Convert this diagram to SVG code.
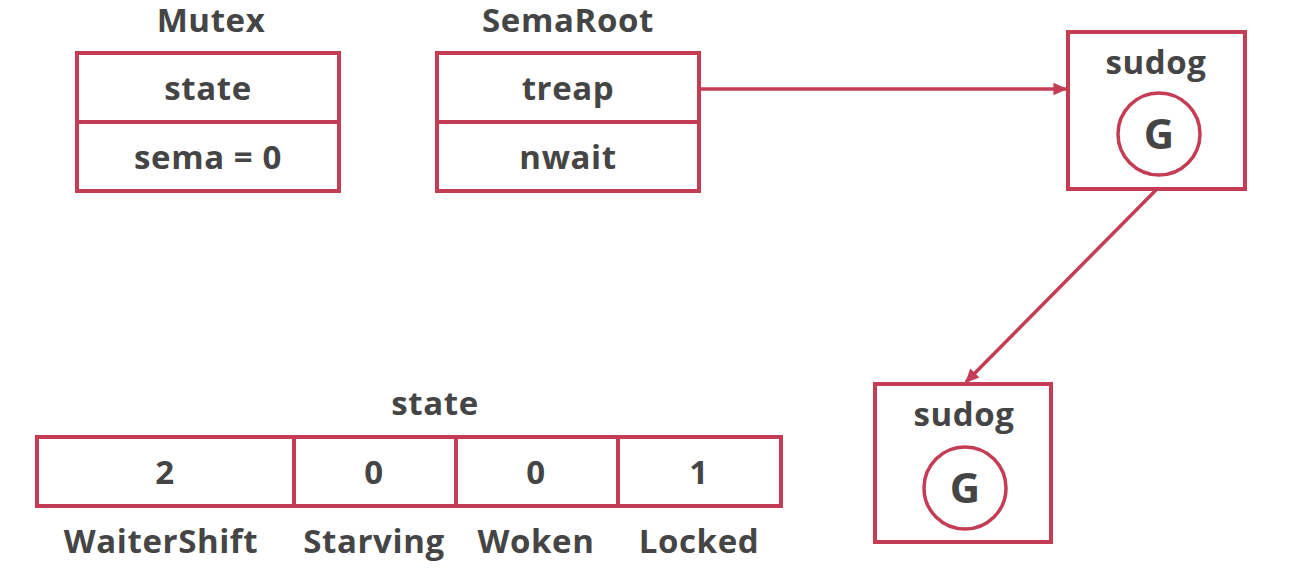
<svg xmlns="http://www.w3.org/2000/svg" width="1292" height="586" viewBox="0 0 1292 586">
<defs>
<style>
.b{fill:#fff;stroke:#c43d55;stroke-width:4}
.l{fill:none;stroke:#c43d55;stroke-width:4}
.c{stroke:#c43d55;stroke-width:3.5;fill:none}
text{font-family:"Open Sans","Noto Sans","Liberation Sans",sans-serif;font-weight:bold;font-size:33px;letter-spacing:0.6px;fill:#454545;text-anchor:middle}
.g{font-size:42px;letter-spacing:0}
</style>
<marker id="ah" viewBox="0 0 10 10" refX="9" refY="5" markerWidth="4.5" markerHeight="4" orient="auto" markerUnits="strokeWidth">
<path d="M0,0.5 L10,5 L0,9.5 Z" fill="#c43d55"/>
</marker>
</defs>
<rect width="1292" height="586" fill="#fff"/>
<g id="mutex">
<text x="211" y="32">Mutex</text>
<rect class="b" x="77" y="53" width="262" height="138"/>
<line class="l" x1="77" y1="122" x2="339" y2="122"/>
<text x="208" y="100">state</text>
<text x="208" y="169">sema = 0</text>
</g>
<g id="semaroot">
<text x="568" y="32">SemaRoot</text>
<rect class="b" x="437" y="53" width="262" height="138"/>
<line class="l" x1="437" y1="122" x2="699" y2="122"/>
<text x="568" y="100">treap</text>
<text x="568" y="169">nwait</text>
</g>
<g id="sudog1">
<rect class="b" x="1068" y="32" width="177" height="157"/>
<text x="1156" y="74">sudog</text>
<circle class="c" cx="1159" cy="134" r="41"/>
<text class="g" x="1159" y="149">G</text>
</g>
<g id="sudog2">
<rect class="b" x="875" y="384" width="176" height="158"/>
<text x="964" y="426">sudog</text>
<circle class="c" cx="965" cy="488" r="41"/>
<text class="g" x="965" y="503">G</text>
</g>
<g id="statebits">
<text x="435" y="415">state</text>
<rect class="b" x="37" y="437" width="744" height="69"/>
<line class="l" x1="294" y1="437" x2="294" y2="506"/>
<line class="l" x1="456" y1="437" x2="456" y2="506"/>
<line class="l" x1="618" y1="437" x2="618" y2="506"/>
<text x="165" y="484">2</text>
<text x="374" y="484">0</text>
<text x="536" y="484">0</text>
<text x="699" y="484">1</text>
<text x="161" y="553">WaiterShift</text>
<text x="374" y="553">Starving</text>
<text x="536" y="553">Woken</text>
<text x="699" y="553">Locked</text>
</g>
<g id="connectors">
<line class="c" x1="699" y1="89" x2="1066" y2="89" marker-end="url(#ah)"/>
<line class="c" x1="1156" y1="190" x2="966" y2="382" marker-end="url(#ah)"/>
</g>
</svg>
